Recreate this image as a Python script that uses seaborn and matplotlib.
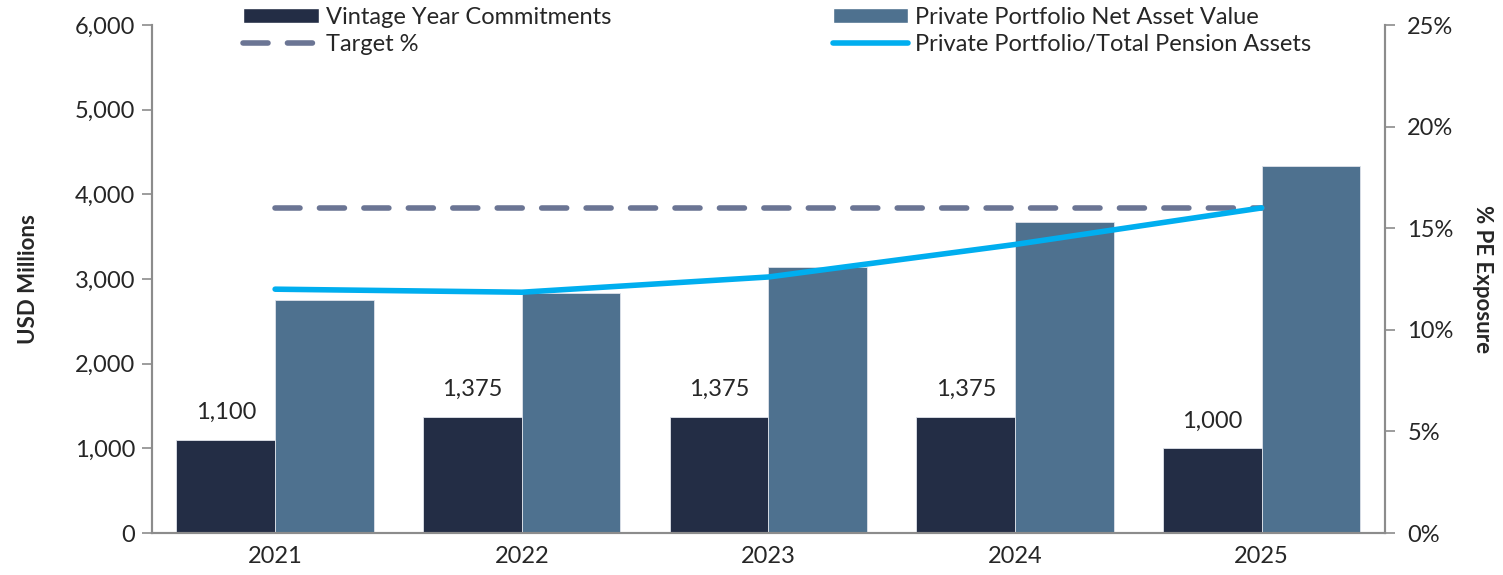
import pandas as pd
import matplotlib
matplotlib.use('Agg')
import matplotlib.pyplot as plt
import seaborn as sns
from matplotlib.lines import Line2D
from matplotlib.patches import Patch
from matplotlib.ticker import FuncFormatter, MultipleLocator

# data
years = ['2021', '2022', '2023', '2024', '2025']
commitments = [1100, 1375, 1375, 1375, 1000]
nav = [2750, 2835, 3145, 3670, 4330]
target_pct = [16, 16, 16, 16, 16]
pe_exposure = [12.0, 11.85, 12.6, 14.2, 16.0]
bar_labels = ['1,100', '1,375', '1,375', '1,375', '1,000']

sns.set_style('white')
plt.rcParams['font.family'] = ['Liberation Sans Narrow', 'Lato', 'DejaVu Sans']

c_dark = '#232d45'
c_nav = '#4e718f'
c_target = '#6b7594'
c_line = '#00aeef'
c_axis = '#8c8c8c'

df = pd.DataFrame({
    'Year': years * 2,
    'Value': commitments + nav,
    'Series': ['Vintage Year Commitments'] * 5 + ['Private Portfolio Net Asset Value'] * 5,
})

fig = plt.figure(figsize=(15.03, 5.75), dpi=100)
ax = fig.add_axes([0.101, 0.073, 0.8205, 0.8835])

sns.barplot(data=df, x='Year', y='Value', hue='Series', palette=[c_dark, c_nav],
            width=0.8, saturation=1, ax=ax, legend=False, edgecolor='#dfe3ea', linewidth=0.6)
ax.bar_label(ax.containers[0], labels=bar_labels, padding=12, fontsize=17)

ax.set_ylim(0, 6000)
ax.set_xlim(-0.5, 4.5)
ax.yaxis.set_major_locator(MultipleLocator(1000))
ax.yaxis.set_major_formatter(FuncFormatter(lambda v, p: f'{int(v):,}'))
ax.set_xlabel('')
ax.set_ylabel('USD Millions', fontsize=16, fontweight='bold', labelpad=26)

ax2 = ax.twinx()
x_pos = list(range(len(years)))
sns.lineplot(x=x_pos, y=target_pct, ax=ax2, color=c_target, linewidth=4,
             linestyle=(0, (4.5, 3.5)))
ax2.lines[-1].set_dash_capstyle('round')
sns.lineplot(x=x_pos, y=pe_exposure, ax=ax2, color=c_line, linewidth=4)
ax2.set_ylim(0, 25)
ax2.yaxis.set_major_locator(MultipleLocator(5))
ax2.yaxis.set_major_formatter(FuncFormatter(lambda v, p: f'{int(v)}%'))
ax2.set_ylabel('% PE Exposure', fontsize=16, fontweight='bold', rotation=270, labelpad=28)
ax2.set_xlim(-0.5, 4.5)

# x ticks sit between categories
ax.set_xticks(x_pos)
ax.set_xticks([i - 0.5 for i in range(len(years) + 1)], minor=True)
ax.tick_params(axis='x', which='major', length=0, labelsize=17, pad=9)
ax.tick_params(axis='x', which='minor', length=8, width=1.2, color=c_axis)
ax.tick_params(axis='y', length=7, width=1.2, color=c_axis, labelsize=17, pad=5)
ax2.tick_params(axis='y', length=7, width=1.2, color=c_axis, labelsize=17, pad=9)

for a in (ax, ax2):
    a.spines['top'].set_visible(False)
    for s in ('left', 'right', 'bottom'):
        a.spines[s].set_color(c_axis)
        a.spines[s].set_linewidth(1.5)

h1 = [Patch(facecolor=c_dark),
      Line2D([], [], color=c_target, linewidth=4, linestyle=(0, (4.5, 3.5)), dash_capstyle='round')]
h2 = [Patch(facecolor=c_nav), Line2D([], [], color=c_line, linewidth=4, solid_capstyle='round')]
leg_kw = dict(loc='upper left', frameon=False, fontsize=17, handlelength=3.2, handleheight=0.55,
              handletextpad=0.3, labelspacing=0.26, borderpad=0, borderaxespad=0)
fig.legend(h1, ['Vintage Year Commitments', 'Target %'], bbox_to_anchor=(0.162, 0.988), **leg_kw)
fig.legend(h2, ['Private Portfolio Net Asset Value', 'Private Portfolio/Total Pension Assets'],
           bbox_to_anchor=(0.554, 0.988), **leg_kw)

fig.savefig('out.png', dpi=100)
